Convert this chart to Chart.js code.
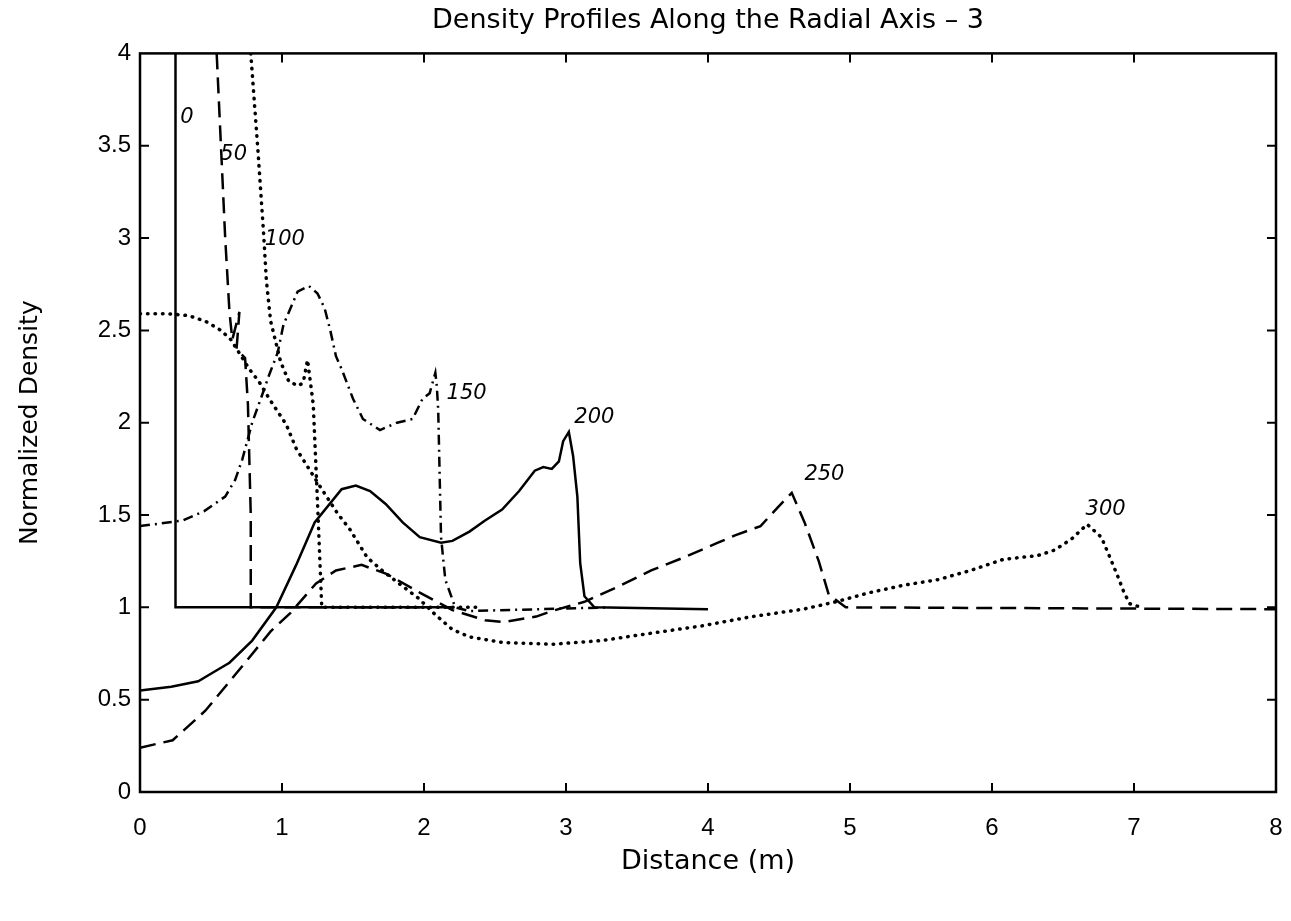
<!DOCTYPE html>
<html>
<head>
<meta charset="utf-8">
<title>Density Profiles Along the Radial Axis - 3</title>
<script src="https://cdn.jsdelivr.net/npm/chart.js@4.4.1/dist/chart.umd.min.js"></script>
<style>
html, body { margin:0; padding:0; background:#fff; }
#wrap { width:1291px; height:921px; }
</style>
</head>
<body>
<div id="wrap"><canvas id="densityChart" width="1291" height="921"></canvas></div>
<script>

/* profile data, one pair of lists per time step */

const dist0 = [0.25, 0.25, 2.2];
const dens0 = [4.0, 1.0, 1.0];

const dist50 = [0.54, 0.57, 0.60, 0.63, 0.65, 0.70, 0.68, 0.74, 0.76, 0.78, 0.78, 2.0];
const dens50 = [4.0, 3.5, 3.0, 2.6, 2.45, 2.6, 2.4, 2.35, 2.1, 1.5, 1.0, 1.0];

const dist100 = [0.78, 0.83, 0.87, 0.89, 0.92, 0.99, 1.05, 1.12, 1.15, 1.18, 1.22, 1.25, 1.28, 2.4];
const dens100 = [4.0, 3.48, 3.03, 2.77, 2.55, 2.33, 2.22, 2.2, 2.22, 2.34, 2.1, 1.57, 1.0, 1.0];

const dist150 = [0, 0.3, 0.45, 0.6, 0.67, 0.72, 0.79, 0.86, 0.91, 0.97, 1.01, 1.06, 1.11, 1.19, 1.25,
                 1.30, 1.34, 1.38, 1.42, 1.5, 1.57, 1.69, 1.81, 1.92, 1.99, 2.04, 2.08, 2.09, 2.10,
                 2.12, 2.15, 2.22, 2.32, 3.3];
const dens150 = [1.44, 1.47, 1.52, 1.6, 1.69, 1.8, 2.0, 2.15, 2.26, 2.38, 2.53, 2.62, 2.71, 2.74, 2.7,
                 2.62, 2.5, 2.36, 2.29, 2.13, 2.02, 1.96, 2.0, 2.02, 2.13, 2.16, 2.27, 2.2, 2.07,
                 1.38, 1.15, 1.0, 0.98, 1.0];

const dist200 = [0, 0.22, 0.41, 0.52, 0.63, 0.79, 0.96, 1.1, 1.23, 1.42, 1.52, 1.62, 1.73, 1.85, 1.97,
                 2.12, 2.2, 2.32, 2.43, 2.55, 2.67, 2.78, 2.84, 2.9, 2.95, 2.98, 3.02, 3.05, 3.08,
                 3.1, 3.13, 3.2, 4.0];
const dens200 = [0.55, 0.57, 0.6, 0.65, 0.7, 0.82, 1.0, 1.23, 1.46, 1.64, 1.66, 1.63, 1.56, 1.46, 1.38,
                 1.35, 1.36, 1.41, 1.47, 1.53, 1.63, 1.74, 1.76, 1.75, 1.79, 1.9, 1.95, 1.82, 1.6,
                 1.24, 1.06, 1.0, 0.99];

const dist250 = [0, 0.23, 0.46, 0.74, 0.92, 1.06, 1.24, 1.38, 1.56, 1.74, 1.97, 2.2, 2.43, 2.56, 2.79,
                 2.9, 3.13, 3.36, 3.6, 3.83, 4.07, 4.19, 4.37, 4.49, 4.59, 4.68, 4.78, 4.85, 4.97, 8.0];
const dens250 = [0.24, 0.28, 0.44, 0.7, 0.87, 0.97, 1.13, 1.2, 1.23, 1.18, 1.08, 0.985, 0.93, 0.92, 0.95,
                 0.98, 1.03, 1.11, 1.2, 1.27, 1.35, 1.39, 1.44, 1.54, 1.62, 1.46, 1.25, 1.07, 1.0, 0.99];

const dist300 = [0, 0.2, 0.34, 0.46, 0.57, 0.64, 0.77, 0.84, 0.91, 1.03, 1.1, 1.19, 1.28, 1.39, 1.48,
                 1.6, 1.72, 1.84, 1.96, 2.08, 2.2, 2.32, 2.55, 2.9, 3.25, 3.6, 3.96, 4.31, 4.67, 4.9,
                 5.14, 5.38, 5.62, 5.85, 6.08, 6.32, 6.44, 6.56, 6.67, 6.77, 6.82, 6.89, 6.93, 6.97, 7.05];
const dens300 = [2.59, 2.59, 2.58, 2.55, 2.5, 2.45, 2.29, 2.22, 2.13, 1.99, 1.86, 1.75, 1.64, 1.51, 1.42,
                 1.27, 1.19, 1.12, 1.05, 0.96, 0.88, 0.84, 0.81, 0.8, 0.82, 0.86, 0.9, 0.95, 0.99, 1.03,
                 1.08, 1.12, 1.15, 1.2, 1.26, 1.28, 1.31, 1.37, 1.45, 1.38, 1.29, 1.16, 1.08, 1.02, 1.0];

/* handwritten curve labels */

const curveLabels = ["0", "50", "100", "150", "200", "250", "300"];
const labelDist = [0.33, 0.66, 1.02, 2.3, 3.2, 4.82, 6.8];
const labelDens = [3.65, 3.45, 2.99, 2.16, 2.03, 1.72, 1.53];

const xTicks = [0, 1, 2, 3, 4, 5, 6, 7, 8];
const yTicks = [0, 0.5, 1, 1.5, 2, 2.5, 3, 3.5, 4];

function toPoints(xs, ys){
    return xs.map((v, i) => ({ x: v, y: ys[i] }));
}

const SOLID = [];
const DASHED = [16, 8];
const DOTTED = [0.5, 7];
const DASHDOT = [10, 5, 2, 5];

function makeSet(label, xs, ys, dash){
    const dotted = dash === DOTTED;
    return {
        label: label,
        data: toPoints(xs, ys),
        borderColor: "#000",
        borderWidth: dotted ? 3.5 : 2.5,
        borderDash: dash,
        borderCapStyle: dotted ? "round" : "butt",
        pointRadius: 0,
        tension: 0,
        fill: false
    };
}

/* frame with inward ticks, plus the curve labels */

const frameTicks = {
    id: "frameTicks",
    afterDatasetsDraw(chart){
        const { ctx, chartArea, scales } = chart;
        const { left, right, top, bottom } = chartArea;
        const xs = scales.x;
        const ys = scales.y;

        ctx.save();
        ctx.strokeStyle = "#000";
        ctx.lineWidth = 2.5;
        ctx.strokeRect(left, top, right - left, bottom - top);

        ctx.lineWidth = 2;
        ctx.beginPath();
        xTicks.slice(1, -1).forEach(v => {
            const px = xs.getPixelForValue(v);
            ctx.moveTo(px, bottom);
            ctx.lineTo(px, bottom - 9);
            ctx.moveTo(px, top);
            ctx.lineTo(px, top + 9);
        });
        yTicks.slice(1, -1).forEach(v => {
            const py = ys.getPixelForValue(v);
            ctx.moveTo(left, py);
            ctx.lineTo(left + 9, py);
            ctx.moveTo(right, py);
            ctx.lineTo(right - 9, py);
        });
        ctx.stroke();

        ctx.fillStyle = "#000";
        ctx.font = "italic 21px 'DejaVu Sans'";
        ctx.textAlign = "center";
        ctx.textBaseline = "middle";
        curveLabels.forEach((t, i) => {
            ctx.fillText(t, xs.getPixelForValue(labelDist[i]), ys.getPixelForValue(labelDens[i]));
        });
        ctx.restore();
    }
};

const ctx = document.getElementById("densityChart");

new Chart(ctx, {
    type: "line",
    data: {
        datasets: [
            makeSet("0", dist0, dens0, SOLID),
            makeSet("50", dist50, dens50, DASHED),
            makeSet("100", dist100, dens100, DOTTED),
            makeSet("150", dist150, dens150, DASHDOT),
            makeSet("200", dist200, dens200, SOLID),
            makeSet("250", dist250, dens250, DASHED),
            makeSet("300", dist300, dens300, DOTTED)
        ]
    },
    options: {
        responsive: false,
        animation: false,
        devicePixelRatio: 1,
        layout: { padding: { left: 0, right: 15, top: 0, bottom: 0 } },
        plugins: {
            legend: { display: false },
            tooltip: { enabled: false },
            title: {
                display: true,
                fullSize: false,
                text: "Density Profiles Along the Radial Axis \u2013 3",
                color: "#000",
                font: { family: "'DejaVu Sans'", size: 27, weight: "normal" },
                padding: { top: 5, bottom: 16 }
            }
        },
        scales: {
            x: {
                type: "linear",
                min: 0,
                max: 8,
                afterFit: (scale) => {
                    scale.height = 129;
                    scale.paddingLeft = 0;
                    scale.paddingRight = 0;
                },
                afterBuildTicks: (scale) => { scale.ticks = xTicks.map(v => ({ value: v })); },
                grid: { display: false, drawTicks: false },
                border: { display: false },
                ticks: {
                    color: "#000",
                    padding: 22,
                    font: { family: "'Liberation Sans'", size: 24 },
                    callback: (v) => String(v)
                },
                title: {
                    display: true,
                    text: "Distance (m)",
                    color: "#000",
                    font: { family: "'DejaVu Sans'", size: 27 },
                    padding: { top: 0, bottom: 43 }
                }
            },
            y: {
                type: "linear",
                min: 0,
                max: 4,
                afterFit: (scale) => { scale.width = 140; },
                afterBuildTicks: (scale) => { scale.ticks = yTicks.map(v => ({ value: v })); },
                grid: { display: false, drawTicks: false },
                border: { display: false },
                ticks: {
                    color: "#000",
                    padding: 9,
                    font: { family: "'Liberation Sans'", size: 24 },
                    callback: (v) => String(v)
                },
                title: {
                    display: true,
                    text: "Normalized Density",
                    color: "#000",
                    font: { family: "'DejaVu Sans'", size: 25 },
                    padding: { top: 15, bottom: 0 }
                }
            }
        }
    },
    plugins: [frameTicks]
});
</script>
</body>
</html>
